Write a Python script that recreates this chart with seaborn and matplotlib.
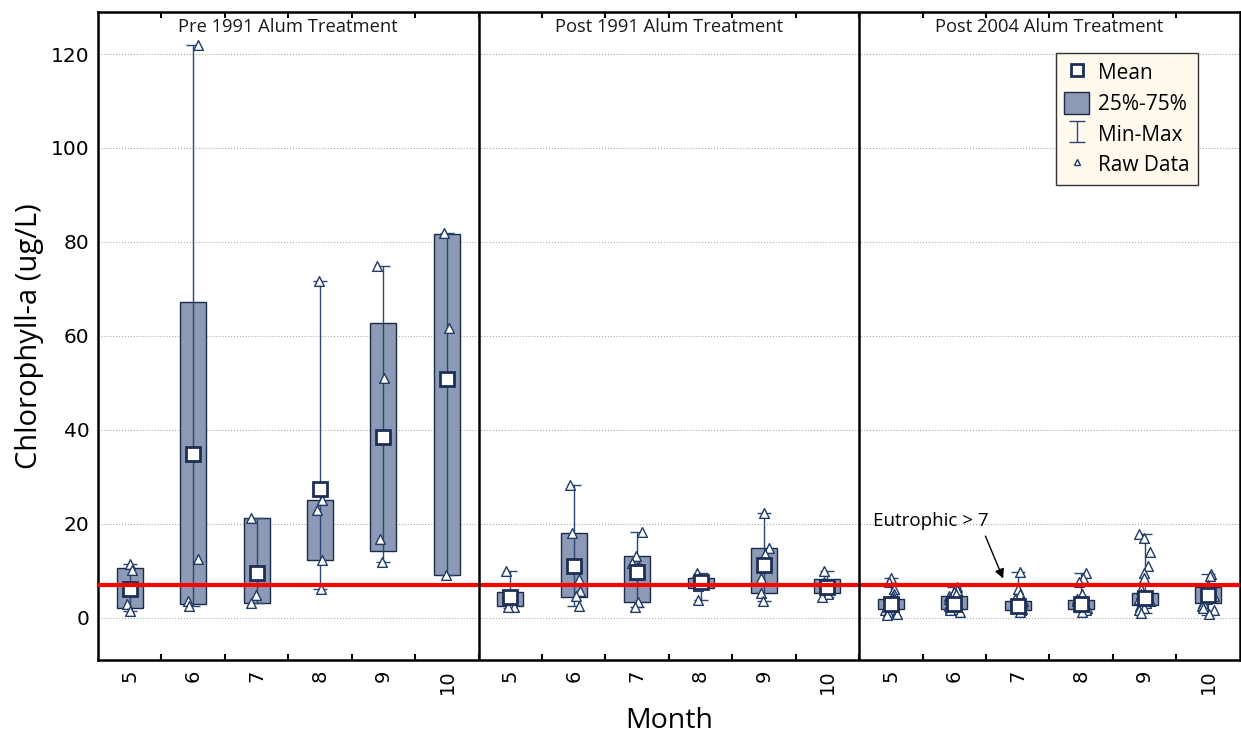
import numpy as np
import pandas as pd
import matplotlib.pyplot as plt
from matplotlib.lines import Line2D
from matplotlib.patches import Patch
import matplotlib.transforms as mtransforms
import seaborn as sns

# Chart data
periods = ["Pre 1991 Alum Treatment", "Post 1991 Alum Treatment", "Post 2004 Alum Treatment"]
months = [5, 6, 7, 8, 9, 10]

pre_mean = [6.1, 34.8, 9.5, 27.3, 38.4, 50.7]
pre_q1 = [2.1, 2.8, 3.0, 12.2, 14.1, 9.0]
pre_q3 = [10.6, 67.2, 21.2, 25.0, 62.8, 81.7]
pre_min = [1.4, 2.4, 3.0, 6.1, 11.8, 9.0]
pre_max = [11.3, 122.0, 21.2, 71.6, 74.9, 81.9]

post91_mean = [4.3, 10.9, 9.7, 7.5, 11.2, 6.5]
post91_q1 = [2.4, 4.4, 3.3, 6.3, 5.3, 5.3]
post91_q3 = [5.5, 18.1, 13.1, 8.5, 14.9, 8.2]
post91_min = [2.1, 2.4, 2.3, 3.8, 3.5, 4.3]
post91_max = [10.0, 28.2, 18.2, 9.5, 22.3, 10.0]

post04_mean = [2.8, 2.9, 2.5, 2.8, 4.2, 4.9]
post04_q1 = [1.9, 1.9, 1.6, 1.9, 2.6, 3.0]
post04_q3 = [4.0, 4.5, 3.5, 3.8, 5.3, 6.5]
post04_min = [0.5, 1.2, 1.2, 1.2, 1.0, 0.6]
post04_max = [8.5, 6.5, 9.7, 9.5, 17.7, 9.2]

pre_raw = [
    [11.3, 10.2, 2.9, 1.4],
    [122.0, 12.4, 3.5, 2.4],
    [21.2, 4.9, 3.1],
    [71.6, 25.0, 22.8, 12.2, 6.1],
    [74.9, 51.1, 16.8, 11.8],
    [81.9, 61.6, 9.0],
]
post91_raw = [
    [10.0, 2.6, 2.3, 2.3],
    [28.2, 18.1, 8.1, 5.6, 4.5, 2.4],
    [18.2, 13.1, 11.7, 10.7, 3.3, 2.3],
    [9.5, 8.5, 8.0, 6.8, 3.8],
    [22.3, 14.9, 13.5, 8.5, 5.3, 3.5],
    [10.0, 7.5, 5.0, 4.3],
]
post04_raw = [
    [8.5, 7.5, 6.0, 5.0, 4.5, 4.0, 3.5, 3.0, 2.8, 2.5, 2.0, 1.8, 1.5, 1.2, 0.8, 0.5],
    [6.5, 6.2, 5.8, 5.5, 5.0, 4.5, 4.0, 3.5, 3.0, 2.5, 2.0, 1.8, 1.5, 1.2],
    [9.7, 6.0, 5.0, 4.0, 3.5, 3.0, 2.5, 2.0, 1.8, 1.5, 1.2],
    [9.5, 8.5, 7.5, 5.0, 4.0, 3.5, 3.0, 2.5, 2.0, 1.5, 1.2],
    [17.7, 17.0, 14.0, 11.0, 9.5, 8.5, 6.0, 5.0, 4.0, 3.5, 3.0, 2.5, 2.0, 1.5, 1.0],
    [9.2, 8.8, 7.0, 6.0, 5.5, 4.5, 4.0, 3.0, 2.5, 2.0, 1.5, 0.8],
]
eutrophic = 7

# Build tables
stats = pd.DataFrame({
    "mean": pre_mean + post91_mean + post04_mean,
    "q1": pre_q1 + post91_q1 + post04_q1,
    "q3": pre_q3 + post91_q3 + post04_q3,
    "min": pre_min + post91_min + post04_min,
    "max": pre_max + post91_max + post04_max,
})
cats = [f"{p}-{m}" for p in range(3) for m in months]
stats["cat"] = cats

rows = []
for p, raw in enumerate([pre_raw, post91_raw, post04_raw]):
    for m, vals in zip(months, raw):
        for v in vals:
            rows.append({"cat": f"{p}-{m}", "value": v})
raw_df = pd.DataFrame(rows)

sns.set_style("white")
plt.rcParams["font.family"] = ["DejaVu Sans"]
plt.rcParams["text.color"] = "black"
plt.rcParams["axes.labelcolor"] = "black"
plt.rcParams["xtick.color"] = "black"
plt.rcParams["ytick.color"] = "black"
txt_font = ["Open Sans", "DejaVu Sans"]

box_col = "#8C9AB6"
navy = "#1C2A4A"
line_col = "#2B4872"

fig, ax = plt.subplots(figsize=(12.41, 7.38), dpi=100)
fig.subplots_adjust(left=0.079, right=0.999, top=0.984, bottom=0.106)

pos = np.arange(len(cats))
ax.bar(pos, stats["q3"] - stats["q1"], bottom=stats["q1"], width=0.41,
       color=box_col, edgecolor=navy, linewidth=1, zorder=2)
ax.errorbar(pos, stats["mean"], yerr=[stats["mean"] - stats["min"], stats["max"] - stats["mean"]],
            fmt="none", ecolor=line_col, elinewidth=1, capsize=5, capthick=1, zorder=3)

np.random.seed(3)
sns.stripplot(data=raw_df, x="cat", y="value", order=cats, jitter=0.1, marker="^", size=7,
              color="white", edgecolor="#1F3A66", linewidth=1, ax=ax, zorder=4)
ax.plot(pos, stats["mean"], "s", ms=10, mfc="white", mec="#1C2F55", mew=2, ls="none", zorder=5)

ax.axhline(eutrophic, color="red", lw=3, zorder=6)
for xv in [5.5, 11.5]:
    ax.axvline(xv, color="black", lw=1.8, zorder=7)

# panel titles
trans = mtransforms.blended_transform_factory(ax.transData, ax.transAxes)
for i, title in enumerate(periods):
    ax.text(i * 6 + 2.5, 0.977, title, transform=trans, ha="center", va="center",
            fontsize=13.2, family=txt_font, color="#1a1a1a")

ax.annotate("Eutrophic > 7", xy=(13.77, 8.3), xytext=(11.72, 20.5), ha="left", va="center",
            fontsize=13.5, family=txt_font,
            arrowprops=dict(arrowstyle="-|>", color="black", lw=1, relpos=(0.95, 0.0),
                            shrinkA=2, shrinkB=0, mutation_scale=14))

# axes
ax.set_xlim(-0.5, 17.5)
ax.set_ylim(-9, 129)
ax.set_xticks(pos)
ax.set_xticklabels([str(m) for m in months] * 3, rotation=90)
ax.set_xticks(np.arange(0.5, 17, 1), minor=True)
ax.tick_params(axis="x", which="major", length=0, pad=7, labelsize=14)
ax.tick_params(axis="x", which="minor", direction="in", length=4, width=1.5, top=True, bottom=True)
ax.set_yticks(range(0, 121, 20))
ax.tick_params(axis="y", direction="in", length=4, width=1.5, labelsize=14.5, pad=6)
ax.yaxis.grid(True, linestyle=":", color="#AAAAAA", lw=0.8)
ax.set_axisbelow(True)
for s in ax.spines.values():
    s.set_linewidth(1.8)
    s.set_color("black")

ax.set_xlabel("Month", fontsize=20.5, family=txt_font, labelpad=9)
ax.set_ylabel("Chlorophyll-a (ug/L)", fontsize=21, family=txt_font, labelpad=5)

# legend
eb = ax.errorbar([np.nan], [np.nan], yerr=[[1], [1]], fmt="none", ecolor=line_col,
                 elinewidth=1, capsize=6, capthick=1)
handles = [
    Line2D([], [], marker="s", ls="none", mfc="white", mec="#1C2F55", mew=2, ms=9),
    Patch(facecolor=box_col, edgecolor=navy),
    eb,
    Line2D([], [], marker="^", ls="none", mfc="white", mec="#1F3A66", mew=1, ms=5),
]
labels = ["Mean", "25%-75%", "Min-Max", "Raw Data"]
leg = ax.legend(handles, labels, loc="upper right", bbox_to_anchor=(0.963, 0.937),
                borderaxespad=0, prop={"family": txt_font, "size": 15}, frameon=True,
                fancybox=False, facecolor="#FFF9EE", edgecolor="#333333", framealpha=1,
                handlelength=1.2, handleheight=1.3, handletextpad=0.4, borderpad=0.4,
                labelspacing=0.35)
leg.set_zorder(10)

plt.savefig("out.png", dpi=100)
